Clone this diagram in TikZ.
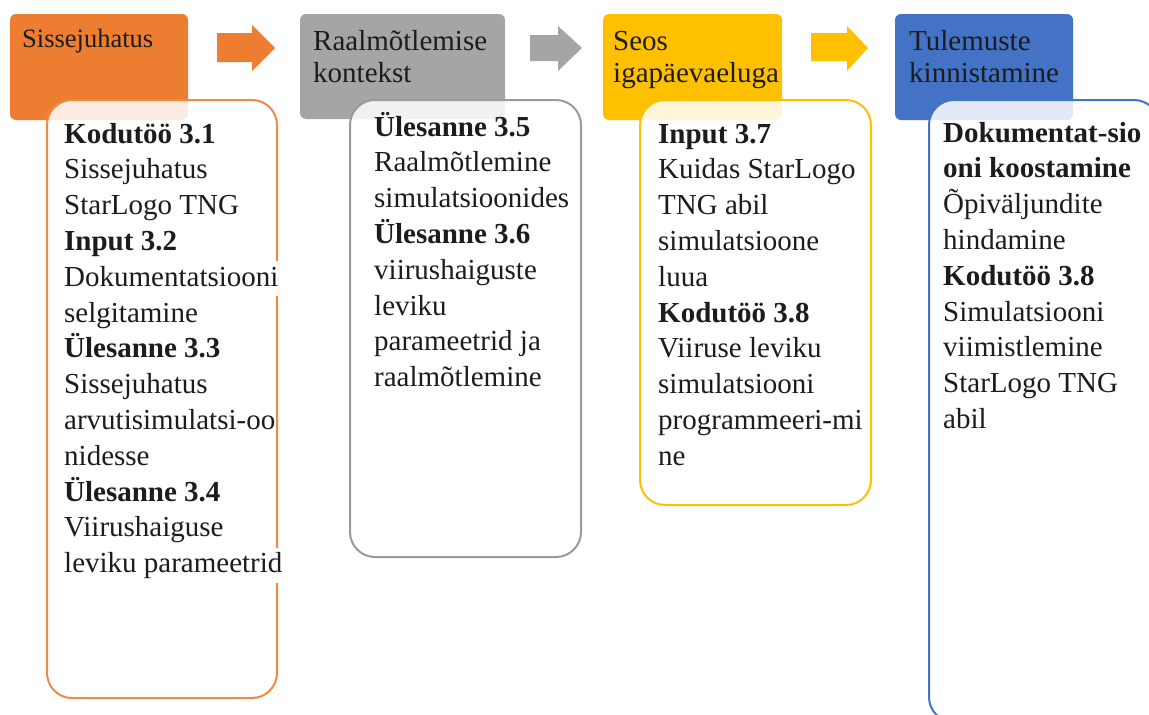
\documentclass[tikz,border=0pt]{standalone}
\usepackage{fontspec}
\setmainfont{Liberation Serif}
\definecolor{cOrange}{HTML}{ED7D31}
\definecolor{cGray}{HTML}{A5A5A5}
\definecolor{cGrayLine}{HTML}{9A9A9A}
\definecolor{cYellow}{HTML}{FFC000}
\definecolor{cBlue}{HTML}{4472C4}
\definecolor{ink}{HTML}{1C1C1C}
% a stack of left-aligned lines whose first baseline is the node's base
\newcommand\stack[1]{\parbox[t]{300pt}{\raggedright #1}}
% a line set on a white ground, so it hides the frame it runs over
\newcommand\wline[1]{{\setlength\fboxsep{0pt}\colorbox{white}{\rule[-10pt]{0pt}{35pt}#1}}}
\begin{document}
\begin{tikzpicture}[x=1pt,y=-1pt,
  headbox/.style={rectangle,rounded corners=6pt,inner sep=0pt,draw=none},
  bodybox/.style={rectangle,rounded corners=25pt,inner sep=0pt,line width=2pt,fill=white,fill opacity=0.85},
  headtxt/.style={anchor=base west,inner sep=0pt,text=ink,font=\fontsize{29}{32}\selectfont},
  bodytxt/.style={anchor=base west,inner sep=0pt,text=ink,font=\fontsize{29}{35.8}\selectfont},
]
\useasboundingbox (0,0) rectangle (1149,715);
\clip (0,0) rectangle (1149,715);

% header tabs
\node[headbox,fill=cOrange,minimum width=178pt,minimum height=106pt] (h1) at (99,67) {};
\node[headbox,fill=cGray,minimum width=205pt,minimum height=105pt] (h2) at (402.5,66.5) {};
\node[headbox,fill=cYellow,minimum width=179pt,minimum height=106pt] (h3) at (692.5,67) {};
\node[headbox,fill=cBlue,minimum width=178pt,minimum height=106pt] (h4) at (984,67) {};

% block arrows between the tabs
\fill[cOrange] (217,33) -- (252,33) -- (252,25) -- (275,48) -- (252,71) -- (252,62) -- (217,62) -- cycle;
\fill[cGray] (530,35) -- (558,35) -- (558,26) -- (582,48) -- (558,71) -- (558,61) -- (530,61) -- cycle;
\fill[cYellow] (811,33) -- (847,33) -- (847,26) -- (868,48) -- (847,71) -- (847,61) -- (811,61) -- cycle;

% content panels
\node[bodybox,draw=cOrange!90,minimum width=230pt,minimum height=598pt] (b1) at (162,399) {};
\node[bodybox,draw=cGrayLine,minimum width=231pt,minimum height=457pt] (b2) at (465.5,328.5) {};
\node[bodybox,draw=cYellow,minimum width=231pt,minimum height=405pt] (b3) at (755.5,302.5) {};
\node[bodybox,draw=cBlue,minimum width=230pt,minimum height=622pt] (b4) at (1044,411) {};

% tab titles
\node[headtxt,font=\fontsize{26.5}{32}\selectfont] (t1) at (22,47) {Sissejuhatus};
\node[headtxt] (t2) at (313,50) {\stack{Raalmõtlemise\\kontekst}};
\node[headtxt] (t3) at (613,50) {\stack{Seos\\igapäevaeluga}};
\node[headtxt] (t4) at (909,50) {\stack{Tulemuste\\kinnistamine}};

% panel texts
\node[bodytxt] (c1) at (64,143) {\stack{%
\textbf{Kodutöö 3.1}\\
Sissejuhatus\\
StarLogo TNG\\
\textbf{Input 3.2}\\
\wline{Dokumentatsiooni}\\
selgitamine\\
\textbf{Ülesanne 3.3}\\
Sissejuhatus\\
\wline{arvutisimulatsi-oo}\\
nidesse\\
\textbf{Ülesanne 3.4}\\
Viirushaiguse\\
\wline{leviku parameetrid}}};

\node[bodytxt] (c2) at (374,136) {\stack{%
\textbf{Ülesanne 3.5}\\
Raalmõtlemine\\
simulatsioonides\\
\textbf{Ülesanne 3.6}\\
viirushaiguste\\
leviku\\
parameetrid ja\\
raalmõtlemine}};

\node[bodytxt] (c3) at (658,143) {\stack{%
\textbf{Input 3.7}\\
Kuidas StarLogo\\
TNG abil\\
simulatsioone\\
luua\\
\textbf{Kodutöö 3.8}\\
Viiruse leviku\\
simulatsiooni\\
programmeeri-mi\\
ne}};

\node[bodytxt] (c4) at (943,142) {\stack{%
\textbf{Dokumentat-sio}\\
\textbf{oni koostamine}\\
Õpiväljundite\\
hindamine\\
\textbf{Kodutöö 3.8}\\
Simulatsiooni\\
viimistlemine\\
StarLogo TNG\\
abil}};
\end{tikzpicture}
\end{document}
